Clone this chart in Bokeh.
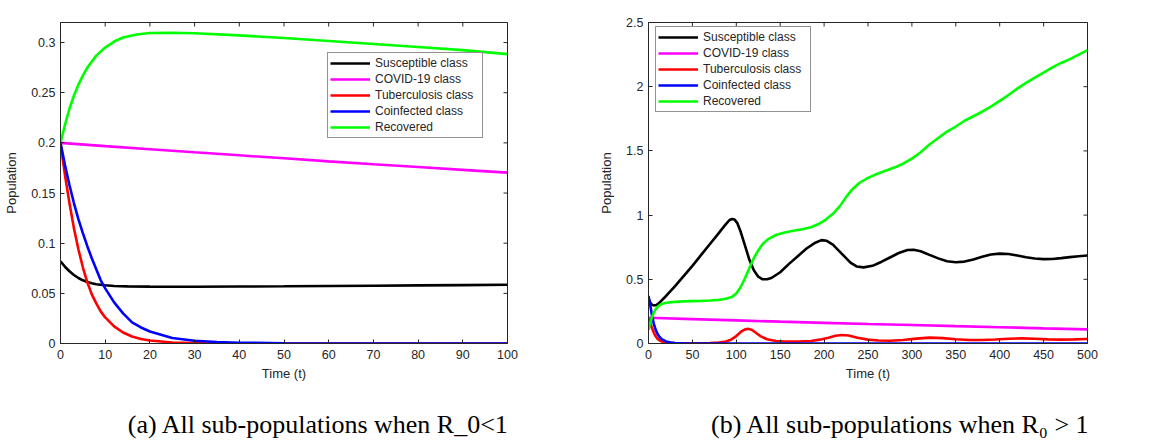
import math
from bokeh.plotting import figure
from bokeh.layouts import row, column
from bokeh.models import (FixedTicker, NumeralTickFormatter, Range1d,
                          Legend, LegendItem, Label)
from bokeh.embed import file_html
from bokeh.resources import INLINE

# ---------------- data: panel (a) R_0 < 1 ----------------
series_names = ["Susceptible class", "COVID-19 class", "Tuberculosis class",
                "Coinfected class", "Recovered"]
series_colors = ["#000000", "#FF00FF", "#FF0000", "#0000FF", "#00FF00"]

a_t_S = [0, 1, 2, 3, 4, 5, 6, 7, 8, 10, 12, 15, 20, 25, 30, 40, 50, 60, 70, 80, 90, 100]
a_S = [0.082, 0.0765, 0.072, 0.0683, 0.0653, 0.063, 0.0613, 0.060, 0.0591, 0.058, 0.0573,
       0.0569, 0.0567, 0.0566, 0.0566, 0.0568, 0.057, 0.0573, 0.0576, 0.0579, 0.0582, 0.0585]

a_t_C = [0, 10, 20, 30, 40, 50, 60, 70, 80, 90, 100]
a_C = [0.2, 0.1968, 0.1937, 0.1906, 0.1876, 0.1846, 0.1816, 0.1787, 0.1759, 0.1731, 0.1703]

a_t_T = [0, 1, 2, 3, 4, 5, 6, 7, 8, 9, 10, 12, 14, 16, 18, 20, 25, 30, 35, 40, 50, 100]
a_T = [0.2, 0.168, 0.14, 0.115, 0.094, 0.076, 0.061, 0.049, 0.04, 0.032, 0.026, 0.017,
       0.011, 0.007, 0.0045, 0.003, 0.001, 0.0004, 0.0002, 0.0001, 0.0, 0.0]

a_t_I = [0, 1, 2, 3, 4, 5, 6, 7, 8, 9, 10, 12, 14, 16, 18, 20, 25, 30, 35, 40, 50, 60, 100]
a_I = [0.2, 0.178, 0.158, 0.14, 0.124, 0.11, 0.097, 0.085, 0.074, 0.063, 0.055, 0.041,
       0.03, 0.021, 0.016, 0.012, 0.0055, 0.0028, 0.0015, 0.0008, 0.0002, 0.0, 0.0]

a_t_R = [0, 1, 2, 3, 4, 5, 6, 7, 8, 10, 12, 14, 17, 20, 25, 30, 40, 50, 60, 70, 80, 90, 100]
a_R = [0.2, 0.218, 0.234, 0.247, 0.258, 0.267, 0.275, 0.281, 0.287, 0.295, 0.301, 0.305,
       0.308, 0.3095, 0.3098, 0.3093, 0.3072, 0.3045, 0.3015, 0.2985, 0.2955, 0.2925, 0.2885]

a_xticks = [0, 10, 20, 30, 40, 50, 60, 70, 80, 90, 100]
a_yticks = [0, 0.05, 0.1, 0.15, 0.2, 0.25, 0.3]

# ---------------- data: panel (b) R_0 > 1 ----------------
b_t_S = [0, 2, 4, 6, 9, 12, 20, 30, 40, 50, 60, 70, 80, 87, 92, 95, 98, 101, 105, 110,
         115, 120, 125, 130, 135, 140, 150, 160, 170, 180, 190, 197, 203, 210, 220, 230,
         237, 245, 255, 265, 275, 285, 295, 302, 310, 320, 330, 340, 350, 360, 370, 380,
         390, 400, 410, 420, 430, 440, 450, 460, 470, 480, 490, 500]
b_S = [0.35, 0.318, 0.302, 0.297, 0.3, 0.315, 0.37, 0.445, 0.525, 0.605, 0.69, 0.775,
       0.86, 0.92, 0.96, 0.97, 0.965, 0.94, 0.87, 0.76, 0.65, 0.57, 0.52, 0.50, 0.50,
       0.51, 0.555, 0.62, 0.68, 0.74, 0.785, 0.805, 0.80, 0.77, 0.70, 0.63, 0.60, 0.593,
       0.605, 0.635, 0.67, 0.705, 0.728, 0.73, 0.718, 0.69, 0.663, 0.64, 0.633, 0.638,
       0.655, 0.675, 0.693, 0.70, 0.697, 0.685, 0.672, 0.662, 0.657, 0.658, 0.665,
       0.673, 0.68, 0.685]

b_t_C = [0, 50, 100, 150, 200, 250, 300, 350, 400, 450, 500]
b_C = [0.2, 0.19, 0.18, 0.17, 0.161, 0.152, 0.144, 0.135, 0.127, 0.118, 0.11]

b_t_T = [0, 2, 4, 6, 8, 10, 13, 16, 20, 30, 50, 70, 80, 88, 94, 100, 105, 110, 114, 118,
         123, 128, 135, 145, 155, 170, 185, 195, 205, 213, 220, 228, 238, 250, 262, 275,
         290, 305, 320, 335, 350, 365, 380, 395, 410, 425, 440, 455, 470, 485, 500]
b_T = [0.19, 0.16, 0.12, 0.085, 0.058, 0.038, 0.022, 0.013, 0.007, 0.003, 0.002, 0.004,
       0.008, 0.016, 0.03, 0.058, 0.09, 0.11, 0.114, 0.105, 0.08, 0.055, 0.033, 0.02,
       0.016, 0.015, 0.02, 0.03, 0.045, 0.06, 0.066, 0.062, 0.045, 0.03, 0.023, 0.022,
       0.027, 0.038, 0.046, 0.042, 0.033, 0.027, 0.027, 0.031, 0.037, 0.04, 0.037,
       0.032, 0.03, 0.032, 0.035]

b_t_I = [0, 2, 4, 6, 8, 10, 12, 15, 20, 25, 30, 40, 50, 500]
b_I = [0.37, 0.3, 0.215, 0.155, 0.11, 0.078, 0.056, 0.034, 0.016, 0.008, 0.004, 0.001,
       0.0, 0.0]

b_t_R = [0, 2, 4, 6, 8, 10, 13, 16, 20, 30, 40, 50, 60, 70, 80, 88, 95, 100, 105, 110,
         115, 120, 125, 130, 137, 145, 155, 165, 175, 185, 195, 202, 210, 218, 225, 232,
         240, 250, 260, 270, 280, 290, 300, 310, 320, 330, 340, 350, 360, 370, 380, 390,
         400, 410, 420, 430, 440, 450, 460, 470, 480, 490, 500]
b_R = [0.105, 0.16, 0.205, 0.24, 0.265, 0.283, 0.3, 0.31, 0.317, 0.324, 0.328, 0.33,
       0.332, 0.335, 0.34, 0.348, 0.362, 0.39, 0.44, 0.51, 0.59, 0.665, 0.725, 0.775,
       0.815, 0.845, 0.865, 0.878, 0.89, 0.905, 0.935, 0.965, 1.01, 1.07, 1.14, 1.2,
       1.25, 1.29, 1.32, 1.345, 1.37, 1.4, 1.44, 1.49, 1.55, 1.6, 1.65, 1.69, 1.735,
       1.77, 1.805, 1.845, 1.89, 1.935, 1.985, 2.03, 2.07, 2.11, 2.15, 2.185, 2.215,
       2.25, 2.285]

b_xticks = [0, 50, 100, 150, 200, 250, 300, 350, 400, 450, 500]
b_yticks = [0, 0.5, 1, 1.5, 2, 2.5]

captions = ["(a) All sub-populations when R_0<1", "(b) All sub-populations when R\u2080 > 1"]

AX = "#262626"
SANS = "Liberation Sans"


def style_axis(ax, ticks, fmt):
    ax.ticker = FixedTicker(ticks=ticks)
    ax.formatter = NumeralTickFormatter(format=fmt)
    ax.axis_line_color = AX
    ax.axis_line_width = 1
    ax.major_tick_line_color = AX
    ax.major_tick_in = 4
    ax.major_tick_out = 0
    ax.minor_tick_line_color = None
    ax.major_label_text_font = SANS
    ax.major_label_text_color = AX
    ax.major_label_text_font_size = "12.5px"
    ax.axis_label_text_font = SANS
    ax.axis_label_text_font_size = "13px"
    ax.axis_label_text_font_style = "normal"
    ax.axis_label_text_color = AX


def make_panel(width, mb, xr, yr, xticks, yticks, yfmt, data, legend_loc):
    p = figure(width=width, height=400, output_backend="svg", toolbar_location=None,
               x_range=Range1d(*xr), y_range=Range1d(*yr),
               min_border_left=mb[0], min_border_right=mb[1],
               min_border_top=mb[2], min_border_bottom=mb[3])
    p.background_fill_color = "white"
    p.border_fill_color = "white"
    p.outline_line_color = AX
    p.xgrid.visible = False
    p.ygrid.visible = False

    style_axis(p.xaxis[0], xticks, "0")
    style_axis(p.yaxis[0], yticks, yfmt)
    p.xaxis[0].major_label_standoff = 6
    p.yaxis[0].major_label_standoff = 5
    p.xaxis[0].axis_label = "Time (t)"
    p.yaxis[0].axis_label = "Population"
    p.xaxis[0].axis_label_standoff = 4
    p.yaxis[0].axis_label_standoff = 9

    # mirrored inward ticks on the top and right edges (box on)
    p.scatter(xticks, [yr[1]] * len(xticks), marker="dash", size=8, angle=math.pi / 2,
              line_color=AX, line_width=1)
    p.scatter([xr[1]] * len(yticks), yticks, marker="dash", size=8,
              line_color=AX, line_width=1)

    items = []
    for (t, v), name, col in zip(data, series_names, series_colors):
        r = p.line(t, v, line_color=col, line_width=2.6)
        items.append(LegendItem(label=name, renderers=[r]))

    leg = Legend(items=items, location=legend_loc, padding=2, spacing=0, margin=0,
                 label_height=16, glyph_height=16, glyph_width=40, label_standoff=5,
                 label_width=105,
                 label_text_font=SANS, label_text_font_size="12px", label_text_color=AX,
                 border_line_color=AX, border_line_width=1,
                 background_fill_color="white", background_fill_alpha=1)
    p.add_layout(leg, "center")
    return p


def make_caption(width, text, cx):
    c = figure(width=width, height=48, output_backend="svg", toolbar_location=None,
               x_range=Range1d(0, 1), y_range=Range1d(0, 1),
               x_axis_location=None, y_axis_location=None,
               min_border=0, min_border_left=0, min_border_right=0,
               min_border_top=0, min_border_bottom=0)
    c.outline_line_color = None
    c.xgrid.visible = False
    c.ygrid.visible = False
    c.add_layout(Label(x=cx, y=24, x_units="screen", y_units="screen", text=text,
                       text_font="Liberation Serif", text_font_size="26px",
                       text_color="black", text_align="center",
                       text_baseline="alphabetic"))
    return c


pa = make_panel(580, (60, 73, 12, 57), (0, 100), (0, 0.32), a_xticks, a_yticks, "0.[00]",
                [(a_t_S, a_S), (a_t_C, a_C), (a_t_T, a_T), (a_t_I, a_I), (a_t_R, a_R)],
                (267, 205))
pb = make_panel(573, (68, 66, 22, 56), (0, 500), (0, 2.5), b_xticks, b_yticks, "0.[0]",
                [(b_t_S, b_S), (b_t_C, b_C), (b_t_T, b_T), (b_t_I, b_I), (b_t_R, b_R)],
                (7, 231))
ca = make_caption(580, captions[0], 318)
cb = make_caption(573, captions[1], 320)

layout = column(row(pa, pb, spacing=0), row(ca, cb, spacing=0), spacing=0)
open("out.html", "w").write(file_html(layout, INLINE))
